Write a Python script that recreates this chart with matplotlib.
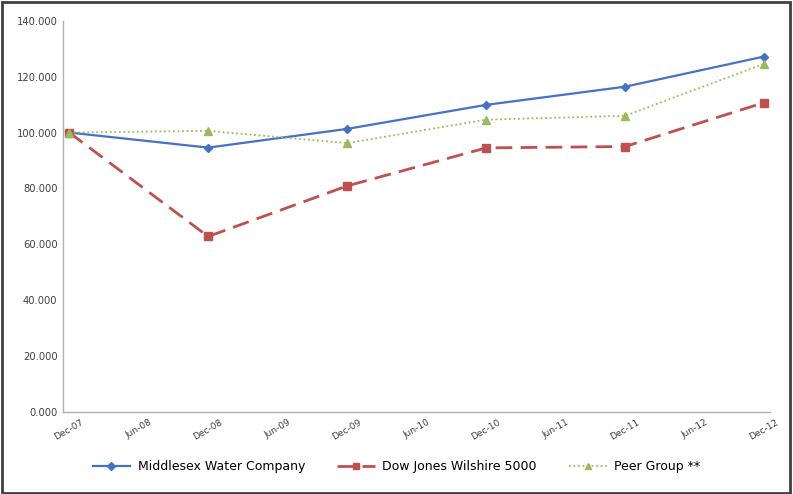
import matplotlib.pyplot as plt
from matplotlib.patches import Rectangle

# half-year tick labels on the category axis
tick_labels = ['Dec-07', 'Jun-08', 'Dec-08', 'Jun-09', 'Dec-09', 'Jun-10',
               'Dec-10', 'Jun-11', 'Dec-11', 'Jun-12', 'Dec-12']
# data is yearly (every Dec)
data_pos = [0, 2, 4, 6, 8, 10]

middlesex = [100.0, 94.6, 101.3, 109.9, 116.4, 127.2]
wilshire = [100.0, 62.8, 80.9, 94.5, 95.0, 110.7]
peer_group = [100.0, 100.6, 96.2, 104.6, 106.0, 124.6]


def create_plot():
    fig = plt.figure(figsize=(7.93, 4.94), dpi=100)
    ax = fig.add_axes([0.0794, 0.166, 0.892, 0.792])

    ax.plot(data_pos, middlesex, color='#4472C4', lw=1.6, marker='D',
            ms=4.5, label='Middlesex Water Company')
    ax.plot(data_pos, wilshire, color='#C0504D', lw=2.0, ls=(0, (6, 3)),
            marker='s', ms=5.5, label='Dow Jones Wilshire 5000')
    ax.plot(data_pos, peer_group, color='#9BBB59', lw=1.3, ls=(0, (1, 1.5)),
            marker='^', ms=6, label='Peer Group **')

    ax.set_xlim(-0.09, 10.09)
    ax.set_ylim(0, 140)
    ax.set_yticks(range(0, 141, 20))
    ax.set_yticklabels(['%.3f' % v for v in range(0, 141, 20)],
                       fontsize=7.2, color='#404040')
    ax.set_xticks(range(len(tick_labels)))
    ax.set_xticklabels(tick_labels, rotation=30, fontsize=6.5,
                       color='#404040', ha='center')
    ax.tick_params(length=0, pad=4)

    for side in ['top', 'right']:
        ax.spines[side].set_visible(False)
    for side in ['left', 'bottom']:
        ax.spines[side].set_color('#B0B0B0')
        ax.spines[side].set_linewidth(1.0)

    fig.legend(loc='center', bbox_to_anchor=(0.5, 0.055), ncol=3,
               frameon=False, fontsize=9, handlelength=3.0,
               columnspacing=2.6, handletextpad=0.6, markerscale=0.8)

    fig.patches.append(Rectangle((0.002, 0.002), 0.994, 0.994,
                                 transform=fig.transFigure, fill=False,
                                 edgecolor='#404040', lw=2))

    fig.savefig('out.png', dpi=100)


if __name__ == '__main__':
    create_plot()
